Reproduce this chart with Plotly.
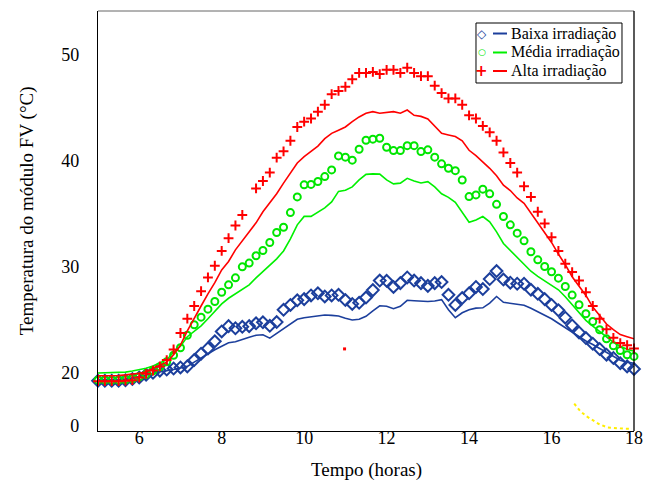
import plotly.graph_objects as go

# Time grid: 10-minute steps from 5:00 to 18:00
horas = [5 + i / 6 for i in range(79)]

baixa_pts = [19.25, 19.25, 19.25, 19.25, 19.3, 19.4, 19.55, 19.8, 20.0, 20.2,
             20.3, 20.4, 20.5, 20.6, 21.2, 21.8, 22.3, 22.97, 23.9, 24.4,
             24.2, 24.34, 24.4, 24.67, 24.76, 24.43, 24.78, 25.94, 26.4, 26.84,
             26.95, 27.3, 27.5, 27.2, 27.3, 27.36, 26.86, 26.5, 26.6, 27.1,
             27.8, 28.7, 28.68, 28.1, 28.46, 29.0, 28.7, 28.46, 28.2, 28.46,
             28.56, 27.36, 26.4, 27.05, 27.5, 28.1, 27.9, 28.84, 29.6, 28.8,
             28.5, 28.4, 28.4, 27.83, 27.45, 26.95, 26.4, 25.9, 25.2, 24.46,
             23.8, 23.27, 22.74, 22.24, 21.7, 21.4, 20.9, 20.6, 20.35]

baixa_linha = [19.3, 19.3, 19.3, 19.34, 19.4, 19.5, 19.6, 19.76, 19.95, 20.1,
               20.2, 20.3, 20.47, 20.6, 21.0, 21.4, 21.75, 22.17, 22.5, 22.83,
               22.92, 23.1, 23.35, 23.54, 23.58, 23.27, 23.73, 24.15, 24.67, 25.05,
               25.19, 25.28, 25.33, 25.45, 25.42, 25.35, 25.14, 24.98, 25.05, 25.33,
               25.85, 26.32, 26.27, 26.04, 26.27, 26.84, 26.8, 26.73, 26.73, 26.77,
               26.9, 25.94, 25.19, 25.66, 25.94, 26.1, 26.13, 26.58, 27.2, 26.65,
               26.58, 26.5, 26.37, 26.08, 25.75, 25.42, 25.1, 24.67, 24.25, 23.82,
               23.4, 23.0, 22.66, 22.3, 21.93, 21.5, 21.18, 21.0, 20.9]

media_pts = [19.3, 19.3, 19.3, 19.3, 19.34, 19.43, 19.62, 19.86, 20.19, 20.57,
             21.04, 21.65, 22.36, 23.54, 24.53, 25.25, 26.0, 26.73, 27.6, 28.3,
             28.96, 30.0, 30.35, 31.04, 31.54, 32.3, 33.24, 33.73, 35.12, 36.6,
             37.74, 37.78, 38.05, 38.52, 39.15, 40.47, 40.35, 40.07, 41.1, 41.95,
             42.05, 42.14, 41.29, 40.97, 40.97, 41.44, 41.44, 40.88, 41.04, 40.35,
             39.72, 39.31, 39.08, 38.2, 36.63, 36.79, 37.33, 36.89, 35.9, 34.75,
             33.96, 33.18, 32.45, 31.42, 30.66, 30.03, 29.53, 28.93, 28.14, 27.33,
             26.42, 25.57, 24.84, 24.06, 23.2, 22.55, 22.1, 21.7, 21.54]

media_linha = [19.97, 19.98, 20.0, 20.02, 20.06, 20.17, 20.28, 20.42, 20.63, 20.9,
               21.23, 21.93, 22.5, 23.4, 23.96, 24.43, 25.1, 25.85, 26.5, 27.03,
               27.45, 27.88, 28.3, 28.96, 29.53, 30.1, 30.75, 31.5, 32.64, 33.96,
               34.76, 34.76, 35.14, 35.57, 36.13, 37.12, 37.22, 37.55, 38.2, 38.73,
               38.77, 38.75, 38.2, 37.83, 37.9, 38.35, 38.1, 37.92, 38.04, 37.55,
               36.89, 36.56, 36.08, 35.19, 34.2, 34.43, 34.75, 34.25, 33.3, 32.2,
               31.56, 30.94, 30.28, 29.58, 29.1, 28.68, 28.3, 27.83, 27.17, 26.46,
               25.7, 24.95, 24.39, 23.87, 23.35, 22.88, 22.5, 22.22, 22.03]

alta_pts = [19.2, 19.2, 19.2, 19.2, 19.25, 19.3, 19.55, 19.9, 20.2, 20.6,
            21.2, 22.2, 23.75, 25.1, 26.3, 27.7, 29.0, 30.1, 31.5, 32.7,
            33.9, 34.9, None, 37.4, 38.1, 38.9, 40.3, 40.9, 41.9, 43.2,
            43.7, 44.0, 44.65, 45.3, 46.3, 46.6, 47.0, 47.7, 48.3, 48.3,
            48.4, 48.2, 48.6, 48.6, 48.3, 48.8, 48.3, 48.0, 48.0, 47.1,
            46.4, 45.9, 45.9, 45.3, 44.3, 44.0, 43.3, 42.7, 41.9, 40.8,
            39.8, 38.9, 37.6, 36.6, 35.2, 34.1, 32.8, 31.5, 30.3, 29.5,
            28.7, 27.6, 26.3, 25.1, 24.1, 23.3, 22.8, 22.6, 22.3]

alta_linha = [19.72, 19.72, 19.72, 19.74, 19.8, 19.86, 19.95, 20.1, 20.4, 20.7,
              21.0, 21.7, 22.6, 23.96, 25.2, 26.3, 27.45, 28.5, 29.7, 30.5,
              31.6, 32.45, 33.2, 34.15, 35.2, 36.0, 36.9, 37.9, 38.8, 39.8,
              40.4, 40.9, 41.4, 42.1, 42.6, 42.9, 43.2, 43.7, 44.15, 44.5,
              44.65, 44.5, 44.6, 44.65, 44.5, 44.8, 44.3, 44.2, 43.96, 43.3,
              42.6, 42.45, 42.3, 41.9, 41.0, 40.5, 39.9, 39.3, 38.6, 37.7,
              37.2, 36.5, 36.0, 35.1, 34.15, 33.3, 32.3, 31.2, 30.2, 29.06,
              28.2, 27.3, 26.2, 25.4, 24.6, 24.06, 23.6, 23.4, 23.2]

# stray marks visible in the original figure
amarelo_x = [16.55, 16.7, 16.85, 17.0, 17.15, 17.35, 17.55, 17.75, 17.95]
amarelo_y = [17.08, 16.36, 15.88, 15.5, 15.16, 14.84, 14.75, 14.72, 14.72]
ponto_x = [10.98]
ponto_y = [22.25]

nomes = ["Baixa irradiação", "Média irradiação", "Alta irradiação"]
cores = ["#1c3f9c", "#00e600", "#ff0000"]
linha_cores = ["#1c3f9c", "#00f000", "#ff0000"]
simbolos = ["diamond-open", "circle-open", "cross-thin-open"]
tamanhos = [9, 7, 7]
legenda_glifos = ["◇", "○", "+"]

y_tick_vals = [15, 20, 30, 40, 50]
y_tick_text = ["0", "20", "30", "40", "50"]
x_tick_vals = [6, 8, 10, 12, 14, 16, 18]

FONT = "Liberation Serif"

fig = go.Figure()

fig.add_trace(go.Scatter(x=amarelo_x, y=amarelo_y, mode="lines",
                         line=dict(color="#ffee00", width=2, dash="dot"),
                         showlegend=False, hoverinfo="skip", cliponaxis=False))

for pts, lin, nome, cor, lcor, sim, tam in zip(
        [baixa_pts, media_pts, alta_pts],
        [baixa_linha, media_linha, alta_linha],
        nomes, cores, linha_cores, simbolos, tamanhos):
    fig.add_trace(go.Scatter(x=horas, y=lin, mode="lines", name=nome,
                             line=dict(color=lcor, width=1.6),
                             showlegend=False, cliponaxis=False))
    fig.add_trace(go.Scatter(x=horas, y=pts, mode="markers", name=nome,
                             marker=dict(symbol=sim, size=tam, color=cor,
                                         line=dict(color=cor, width=2)),
                             showlegend=False, cliponaxis=False))

fig.add_trace(go.Scatter(x=ponto_x, y=ponto_y, mode="markers",
                         marker=dict(symbol="square", size=3, color="#ff0000"),
                         showlegend=False))

# ---- legend box drawn as decoration (marker glyph, line sample, label) ----
shapes = [
    dict(type="line", xref="paper", yref="paper", x0=0, x1=1, y0=1, y1=1,
         line=dict(color="#666666", width=1)),
    dict(type="line", xref="paper", yref="paper", x0=1, x1=1, y0=0, y1=1,
         line=dict(color="black", width=1.3)),
    dict(type="rect", xref="paper", yref="paper", x0=0.7052, x1=0.9776,
         y0=0.8286, y1=0.9714, line=dict(color="black", width=1),
         fillcolor="white", layer="above"),
]
annotations = [
    dict(text="Tempo (horas)", xref="paper", yref="paper", x=0.5, y=-0.093,
         xanchor="center", yanchor="middle", showarrow=False,
         font=dict(family=FONT, size=19)),
    dict(text="Temperatura do módulo FV (°C)", xref="paper", yref="paper",
         x=-0.132, y=0.524, xanchor="center", yanchor="middle",
         textangle=-90, showarrow=False, font=dict(family=FONT, size=19)),
]
linhas_y = [0.9464, 0.9012, 0.8571]
glifo_tam = [12, 9, 15]
for nome, cor, lcor, gl, gt, ly in zip(nomes, cores, linha_cores, legenda_glifos,
                                       glifo_tam, linhas_y):
    shapes.append(dict(type="line", xref="paper", yref="paper", x0=0.7369, x1=0.7631,
                       y0=ly, y1=ly, line=dict(color=lcor, width=2), layer="above"))
    annotations.append(dict(text="<b>" + gl + "</b>", xref="paper", yref="paper",
                            x=0.7164, y=ly, xanchor="center", yanchor="middle",
                            showarrow=False,
                            font=dict(family="DejaVu Sans", size=gt, color=cor)))
    annotations.append(dict(text=nome, xref="paper", yref="paper", x=0.7668, y=ly,
                            xanchor="left", yanchor="middle", showarrow=False,
                            font=dict(family=FONT, size=16, color="black")))

fig.update_layout(
    width=648, height=477,
    margin=dict(l=90, r=22, t=3, b=54),
    paper_bgcolor="white", plot_bgcolor="white",
    font=dict(family=FONT, size=18, color="black"),
    showlegend=False,
    xaxis=dict(range=[5, 18], tickvals=x_tick_vals, showgrid=False, zeroline=False,
               showline=True, linecolor="black", linewidth=1.3, ticks="",
               tickfont=dict(family=FONT, size=18), ticklabelstandoff=-10),
    yaxis=dict(range=[14.5, 54.15], tickvals=y_tick_vals, ticktext=y_tick_text,
               showgrid=False, zeroline=False, showline=True, linecolor="black",
               linewidth=1.3, ticks="", tickfont=dict(family=FONT, size=18),
               ticklabelstandoff=14),
    shapes=shapes,
    annotations=annotations,
)

fig.write_html("out.html")
